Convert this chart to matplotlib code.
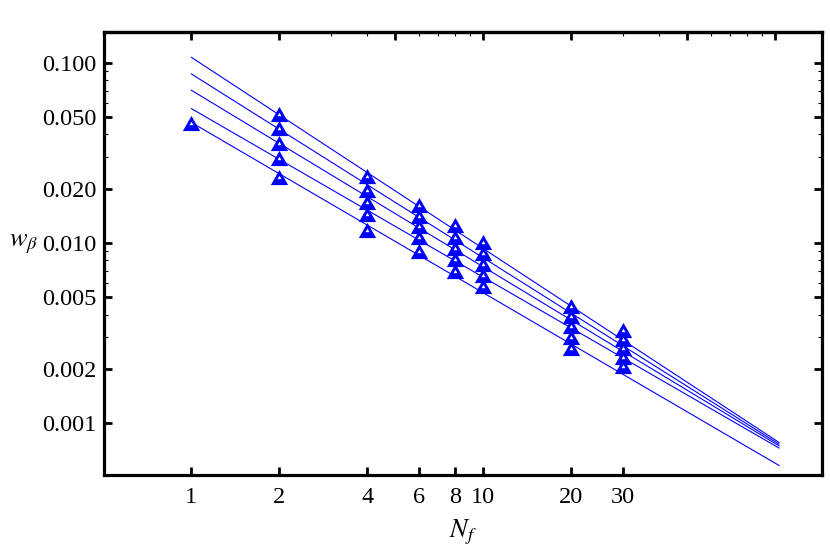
import numpy as np
import matplotlib.pyplot as plt
from matplotlib.ticker import FixedLocator, NullFormatter

plt.rcParams['font.family'] = ['Liberation Serif', 'DejaVu Serif']
plt.rcParams['mathtext.fontset'] = 'stix'

# data (top series first)
nf = [2, 4, 6, 8, 10, 20, 30]
w_s1 = [0.0521, 0.0234, 0.01626, 0.01253, 0.01014, 0.00448, 0.00330]
w_s2 = [0.0433, 0.0196, 0.01412, 0.01083, 0.00877, 0.00391, 0.00294]
w_s3 = [0.0359, 0.0169, 0.01243, 0.00935, 0.00765, 0.00344, 0.00262]
w_s4 = [0.0296, 0.0144, 0.01076, 0.00813, 0.00665, 0.00301, 0.00233]
nf5 = [1, 2, 4, 6, 8, 10, 20, 30]
w_s5 = [0.0462, 0.0233, 0.01178, 0.00903, 0.00700, 0.00573, 0.00262, 0.00208]

# fitted power-law lines: value at start and end of the drawn segment
fit_n = [1, 103]
fit_start = [0.1071, 0.0866, 0.0703, 0.0556, 0.0466]
fit_end = [0.000781, 0.000764, 0.000748, 0.000727, 0.000582]

xticks = [1, 2, 4, 6, 8, 10, 20, 30]
xtick_labels = ['1', '2', '4', '6', '8', '10', '20', '30']
yticks = [0.001, 0.002, 0.005, 0.01, 0.02, 0.05, 0.1]
ytick_labels = ['0.001', '0.002', '0.005', '0.010', '0.020', '0.050', '0.100']
top_major = [0.5, 1, 2, 5, 10, 20, 50, 100]
top_minor = [3, 4, 6, 7, 8, 9, 30, 40, 60, 70, 80, 90]

fig = plt.figure(figsize=(8.3, 5.5), dpi=100)
ax = fig.add_axes([0.1247, 0.1355, 0.8651, 0.8069])
ax.set_xscale('log')
ax.set_yscale('log')
ax.set_xlim(0.5, 144)
ax.set_ylim(0.000512, 0.1486)

blue = (0, 0, 1)
for a, b in zip(fit_start, fit_end):
    ax.plot(fit_n, [a, b], color=blue, lw=0.8, zorder=2)

tri = [(-1, -0.875), (1, -0.875), (0, 0.875)]
series = [(nf, w_s1), (nf, w_s2), (nf, w_s3), (nf, w_s4), (nf5, w_s5)]
for xs, ys in series:
    ax.plot(xs, ys, ls='none', marker=tri, ms=12.5, mfc=blue, mec='none', zorder=3)
    ax.plot(xs, ys, ls='none', marker=tri, ms=2.8, mfc='white', mec='none', zorder=4)

ax.xaxis.set_major_locator(FixedLocator(xticks))
ax.set_xticklabels(xtick_labels)
ax.xaxis.set_minor_locator(FixedLocator([]))
ax.yaxis.set_major_locator(FixedLocator(yticks))
ax.set_yticklabels(ytick_labels)
ymin = []
for d in [0.001, 0.01, 0.1]:
    for k in [3, 4, 6, 7, 8, 9]:
        ymin.append(k * d)
ax.yaxis.set_minor_locator(FixedLocator(ymin))
ax.yaxis.set_minor_formatter(NullFormatter())

ax.tick_params(axis='both', which='major', direction='in', length=6, width=2,
               labelsize=17.5, pad=5)
ax.tick_params(axis='y', which='both', right=True)
ax.tick_params(axis='y', which='minor', direction='in', length=3, width=0.8)
ax.tick_params(axis='x', pad=8)

top = ax.secondary_xaxis('top')
top.xaxis.set_major_locator(FixedLocator(top_major))
top.xaxis.set_minor_locator(FixedLocator(top_minor))
top.xaxis.set_major_formatter(NullFormatter())
top.xaxis.set_minor_formatter(NullFormatter())
top.tick_params(which='major', direction='in', length=6, width=2)
top.tick_params(which='minor', direction='in', length=3, width=0.8)
top.spines['top'].set_linewidth(2.3)

for s in ax.spines.values():
    s.set_linewidth(2.3)

ax.set_xlabel(r'$N_f$', fontsize=19, labelpad=7)
ax.set_ylabel(r'$w_\beta$', fontsize=19, rotation=0, ha='center', va='center')
ax.yaxis.set_label_coords(-0.112, 0.52)

fig.savefig('out.png', dpi=100)
